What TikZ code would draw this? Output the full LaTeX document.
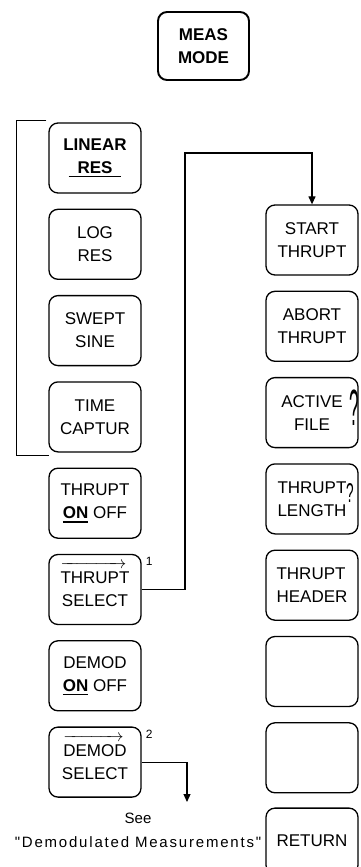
\documentclass[tikz,border=0pt]{standalone}
\usepackage{fontspec}
\setmainfont{Liberation Sans}
\newfontfamily\spacedfont[LetterSpace=12]{Liberation Sans}
\usetikzlibrary{positioning, arrows.meta}
\newcommand{\keysize}{\fontsize{17}{23}\selectfont}
\newcommand{\selbar}[1]{\setbox0=\hbox{#1}\rlap{\rule[-4pt]{\wd0}{1.6pt}}\box0\relax}
\newcommand{\pathword}[1]{\setbox0=\hbox{#1}\rlap{\raisebox{15pt}[0pt][0pt]{\hbox to \dimexpr\wd0-3pt\relax{\rightarrowfill}}}\box0\relax}

\begin{document}
\begin{tikzpicture}[
  x=1pt, y=-1pt,
  softkey/.style={draw, line width=1.3pt, rounded corners=9pt, align=center,
    minimum width=92pt, minimum height=70pt, inner sep=2pt, font=\keysize},
  note/.style={inner sep=0pt, font=\fontsize{12}{14}\selectfont},
  >={Triangle[width=7pt,length=8pt]},
  node distance=15pt
]
\useasboundingbox (0,0) rectangle (360,867);
\node[softkey, line width=1.9pt, minimum width=91pt, minimum height=68pt] (meas) at (203.5,46) {\textbf{MEAS}\\\textbf{MODE}};
% left column
\node[softkey] (linres) at (95,158) {\textbf{LINEAR}\\\selbar{\hspace{9pt}\textbf{RES}\hspace{9pt}}};
\node[softkey, below=of linres] (logres) {LOG\\RES};
\node[softkey, below=of logres] (swept) {SWEPT\\SINE};
\node[softkey, below=of swept] (timecap) {TIME\\CAPTUR};
\node[softkey, below=of timecap] (thruon) {THRUPT\\\selbar{\textbf{ON}} OFF};
\node[softkey, below=of thruon] (tsel) {\pathword{THRUPT}\\SELECT};
\node[softkey, below=of tsel] (demon) {DEMOD\\\selbar{\textbf{ON}} OFF};
\node[softkey, below=of demon] (dsel) {\pathword{DEMOD}\\SELECT};
\node[note, anchor=north west] (n1) at ([xshift=4pt,yshift=-3pt]tsel.north east) {1};
\node[note, anchor=north west] (n2) at ([xshift=4pt,yshift=-3pt]dsel.north east) {2};
% right column
\node[softkey] (start) at (312,240) {START\\THRUPT};
\node[softkey, below=of start] (abort) {ABORT\\THRUPT};
\node[softkey, below=of abort] (actfile) {ACTIVE\\FILE};
\node[softkey, below=of actfile] (tlen) {THRUPT\\LENGTH};
\node[softkey, below=of tlen, align=left] (thead) {THRUPT\\HEADER};
\node[softkey, below=of thead] (blank1) {};
\node[softkey, below=of blank1] (blank2) {};
\node[softkey, below=14pt of blank2, minimum height=66pt] (ret) {RETURN};
\node[inner sep=0pt, font=\keysize] (qfile) at (354,408) {\scalebox{1}[3]{?}};
\node[inner sep=0pt, font=\keysize] (qlen) at (350,493) {\scalebox{0.8}[1.6]{?}};
% bracket and connectors
\draw[line width=1.2pt] ([xshift=-2pt,yshift=2pt]linres.north west) -- ++(-30,0) |- ([xshift=1pt,yshift=-3pt]timecap.south west);
\coordinate (tjog) at (185,153);
\draw[line width=1.2pt, ->] (tsel.east) -| (tjog) -| (start.north);
\coordinate (seedrop) at (187,802);
\draw[line width=1.2pt, ->] (dsel.east) -| (seedrop);
\node[align=center, font=\fontsize{15}{24}\selectfont] (see) at (138,830) {See\\{\spacedfont "Demodulated Measurements"}};
\end{tikzpicture}
\end{document}
